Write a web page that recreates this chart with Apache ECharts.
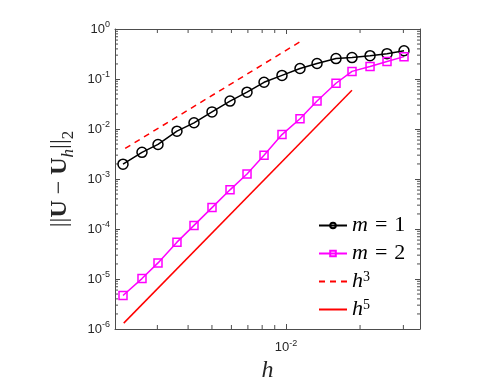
<!DOCTYPE html>
<html>
<head>
<meta charset="utf-8">
<script src="https://cdn.jsdelivr.net/npm/echarts@6/dist/echarts.min.js"></script>
<style>
  html, body { margin: 0; padding: 0; background: #fff; }
  #chart { width: 499px; height: 388px; }
</style>
</head>
<body>
<div id="chart"></div>
<script>
// mesh sizes h
var hValues = [0.002175, 0.002598, 0.003018, 0.003604, 0.004227, 0.005003, 0.005922, 0.006943,
  0.008141, 0.009632, 0.0114, 0.01337, 0.01597, 0.01855, 0.02196, 0.02574, 0.03018]
// errors ||U - U_h||_2
var errM1 = [1.98e-3, 3.41e-3, 4.91e-3, 9.06e-3, 0.0133, 0.022, 0.0362, 0.0546,
  0.0859, 0.118, 0.162, 0.204, 0.256, 0.268, 0.293, 0.321, 0.368]
var errM2 = [4.69e-6, 1.02e-5, 2.10e-5, 5.46e-5, 1.18e-4, 2.68e-4, 6.07e-4, 1.26e-3,
  2.98e-3, 7.73e-3, 0.016, 0.0362, 0.0822, 0.142, 0.178, 0.223, 0.28]
// reference slopes (end points)
var refH3 = [[0.00222, 4.09e-3], [0.0114, 0.554]]
var refH5 = [[0.00219, 1.31e-6], [0.01854, 0.0598]]

var xMin = 0.002018, xMax = 0.03505
var yMin = 1e-6, yMax = 1
var xMinorTicks = [0.003, 0.004, 0.005, 0.006, 0.007, 0.008, 0.009, 0.02, 0.03]
var yMinorTicks = []
for (var e = -6; e < 0; e++) {
  for (var k = 2; k <= 9; k++) yMinorTicks.push(k * Math.pow(10, e))
}

var axisColor = '#4d4d4d'
var tickFont = 'Liberation Sans, Arial, sans-serif'
var mathFont = 'Liberation Serif, DejaVu Serif, serif'

function powLabel(v){
  var ex = Math.log10(v)
  if (Math.abs(ex - Math.round(ex)) > 1e-6) return ''
  return '10{sup|' + Math.round(ex) + '}'
}
var tickRich = {
  sup: { fontSize: 9, fontFamily: tickFont, color: '#262626', verticalAlign: 'top', lineHeight: 17 }
}

var chart = echarts.init(document.getElementById('chart'))

function minorTickSeries(isX){
  return {
    type: 'custom',
    silent: true,
    xAxisIndex: 0, yAxisIndex: 0,
    data: isX ? xMinorTicks.map(function(v){ return [v, yMin] }) : yMinorTicks.map(function(v){ return [xMin, v] }),
    renderItem: function(params, api){
      var v = api.value(isX ? 0 : 1)
      var len = isX ? 4 : 3
      var a, b
      if (isX) { a = api.coord([v, yMin]); b = api.coord([v, yMax]) }
      else { a = api.coord([xMin, v]); b = api.coord([xMax, v]) }
      var st = { stroke: axisColor, lineWidth: 1 }
      var l1, l2
      if (isX) {
        l1 = { x1: a[0], y1: a[1], x2: a[0], y2: a[1] - len }
        l2 = { x1: b[0], y1: b[1], x2: b[0], y2: b[1] + len }
      } else {
        l1 = { x1: a[0], y1: a[1], x2: a[0] + len, y2: a[1] }
        l2 = { x1: b[0], y1: b[1], x2: b[0] - len, y2: b[1] }
      }
      return { type: 'group', children: [
        { type: 'line', shape: l1, style: st },
        { type: 'line', shape: l2, style: st }
      ]}
    },
    z: 1
  }
}

var axisBase = {
  type: 'log', logBase: 10,
  axisLine: { show: true, lineStyle: { color: axisColor, width: 1 } },
  axisTick: { show: true, inside: true, length: 5, lineStyle: { color: axisColor } },
  splitLine: { show: false },
  minorTick: { show: false },
}

var option = {
  animation: false,
  backgroundColor: '#fff',
  grid: { left: 115, right: 79, top: 29, bottom: 55, containLabel: false },
  legend: {
    orient: 'vertical',
    left: 313, top: 209,
    itemWidth: 28, itemHeight: 7, itemGap: 5,
    data: [
      { name: 'm = 1' },
      { name: 'm = 2' },
      { name: 'h3', itemStyle: { opacity: 0 } },
      { name: 'h5', itemStyle: { opacity: 0 } }
    ],
    formatter: function(name){
      if (name === 'm = 1') return '{i|m}{eq|=}1'
      if (name === 'm = 2') return '{i|m}{eq|=}2'
      if (name === 'h3') return '{i|h}{sup|3}'
      return '{i|h}{sup|5}'
    },
    textStyle: {
      fontFamily: mathFont, fontSize: 22, color: '#000', lineHeight: 23,
      rich: {
        i: { fontFamily: mathFont, fontStyle: 'italic', fontSize: 22, lineHeight: 23 },
        eq: { fontFamily: mathFont, fontSize: 22, lineHeight: 23, padding: [0, 7, 0, 7] },
        sup: { fontFamily: mathFont, fontSize: 14, verticalAlign: 'top', lineHeight: 23 }
      }
    }
  },
  xAxis: [
    Object.assign({}, axisBase, {
      min: xMin, max: xMax, position: 'bottom',
      axisLabel: { formatter: powLabel, margin: 10, fontFamily: tickFont, fontSize: 13, color: '#262626', rich: tickRich },
      name: 'h', nameLocation: 'middle', nameGap: 30,
      nameTextStyle: { fontFamily: mathFont, fontStyle: 'italic', fontSize: 24, color: '#262626' }
    }),
    Object.assign({}, axisBase, {
      min: xMin, max: xMax, position: 'top', axisLabel: { show: false }
    })
  ],
  yAxis: [
    Object.assign({}, axisBase, {
      min: yMin, max: yMax, position: 'left',
      axisLabel: { formatter: powLabel, margin: 5, fontFamily: tickFont, fontSize: 13, color: '#262626', rich: tickRich },
      name: '{t|||}{b|U}{t| − }{b|U}{s|h}{t|||}{s2|2}',
      nameLocation: 'middle', nameRotate: 90, nameGap: 37,
      nameTextStyle: {
        color: '#262626',
        rich: {
          t: { fontFamily: mathFont, fontSize: 24, color: '#262626' },
          b: { fontFamily: mathFont, fontSize: 24, fontWeight: 'bold', color: '#262626' },
          s: { fontFamily: mathFont, fontSize: 17, fontStyle: 'italic', color: '#262626', verticalAlign: 'bottom', lineHeight: 34 },
          s2: { fontFamily: mathFont, fontSize: 17, color: '#262626', verticalAlign: 'bottom', lineHeight: 34 }
        }
      }
    }),
    Object.assign({}, axisBase, {
      min: yMin, max: yMax, position: 'right', axisLabel: { show: false }
    })
  ],
  series: [
    minorTickSeries(true),
    minorTickSeries(false),
    {
      name: 'm = 1', type: 'line',
      data: hValues.map(function(h, i){ return [h, errM1[i]] }),
      symbol: 'circle', symbolSize: 10,
      lineStyle: { color: '#000', width: 1.5 },
      itemStyle: { color: 'rgba(0,0,0,0)', borderColor: '#000', borderWidth: 1.5 },
      z: 4
    },
    {
      name: 'm = 2', type: 'line',
      data: hValues.map(function(h, i){ return [h, errM2[i]] }),
      symbol: 'rect', symbolSize: 8,
      lineStyle: { color: '#ff00ff', width: 1.5 },
      itemStyle: { color: 'rgba(0,0,0,0)', borderColor: '#ff00ff', borderWidth: 1.5 },
      z: 4
    },
    {
      name: 'h3', type: 'line', data: refH3, symbol: 'none',
      lineStyle: { color: '#ff0000', width: 1.5, type: [6, 5] },
      itemStyle: { color: '#ff0000' },
      z: 3
    },
    {
      name: 'h5', type: 'line', data: refH5, symbol: 'none',
      lineStyle: { color: '#ff0000', width: 1.5 },
      itemStyle: { color: '#ff0000' },
      z: 3
    }
  ]
}
chart.setOption(option)
</script>
</body>
</html>
